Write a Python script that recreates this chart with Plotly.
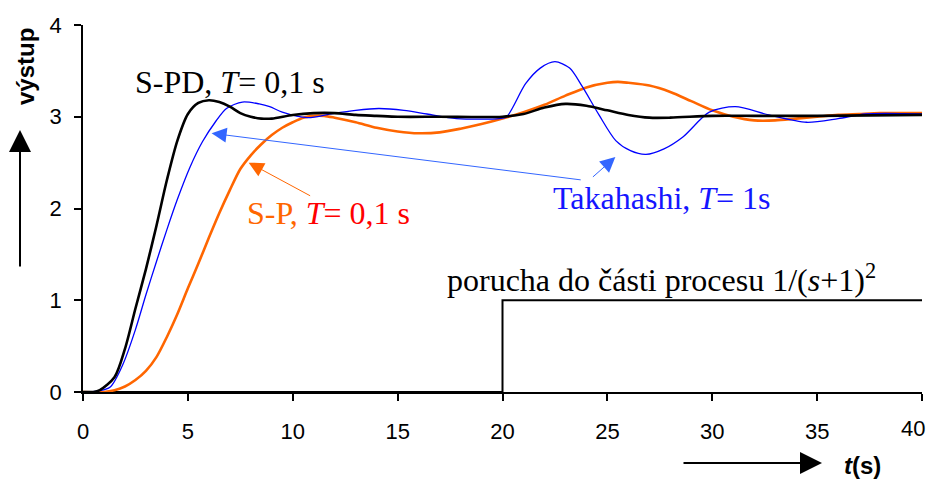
import plotly.graph_objects as go

# ---- data ----
t_spd = [0, 0.5, 0.8, 1.5, 2.0, 2.5, 3.0, 3.5, 4.0, 4.5, 5.0, 5.5, 6.0, 6.5, 7.0, 7.5, 8.0, 8.5, 9.0,
         10, 11, 12, 13, 14, 15, 17, 20, 21, 22, 23, 24, 25, 26, 27, 28, 30, 32, 35, 40]
y_spd = [0, 0, 0.02, 0.16, 0.47, 0.91, 1.34, 1.81, 2.31, 2.74, 3.03, 3.15, 3.18, 3.16, 3.11, 3.04, 3.0, 2.98, 2.98,
         3.02, 3.04, 3.04, 3.02, 3.01, 3.0, 3.0, 3.0, 3.03, 3.10, 3.14, 3.12, 3.07, 3.02, 2.99, 2.99, 3.01, 3.01, 3.01, 3.02]

t_tak = [0, 0.7, 1.3, 1.9, 2.5, 3.0, 3.5, 4.0, 4.5, 5.1, 5.7, 6.3, 6.84, 7.6, 8.4, 8.9, 9.5, 10.7, 11.9, 13.0,
         14.1, 15.3, 16.4, 17.8, 19.86, 20.2, 21.1, 21.8, 22.5, 23.2, 23.8, 24.6, 25.4, 26.1, 26.84, 27.7,
         28.6, 29.86, 31.1, 32.7, 34.5, 36.0, 37.3, 40]
y_tak = [0, 0.01, 0.055, 0.3, 0.68, 1.06, 1.42, 1.77, 2.1, 2.45, 2.73, 2.94, 3.09, 3.16, 3.14, 3.11, 3.05, 2.99, 3.035, 3.07,
         3.09, 3.07, 3.03, 2.98, 2.98, 3.0, 3.36, 3.53, 3.6, 3.53, 3.33, 3.02, 2.74, 2.63, 2.59, 2.65,
         2.78, 3.05, 3.11, 3.02, 2.94, 2.98, 3.03, 3.03]

t_sp = [0, 1.0, 1.5, 2.0, 2.5, 3.0, 3.5, 4.0, 4.5, 5.0, 5.5, 6.0, 6.5, 7.0, 7.5, 8.0, 8.5, 9.0, 9.5, 10.0,
        10.5, 11.0, 11.5, 12, 13, 14, 15, 16, 17, 18, 19, 20, 21, 22, 23, 24, 25, 25.5, 26, 27, 28, 29, 30,
        31, 32, 33, 34, 35, 36, 37, 38, 40]
y_sp = [0, 0.0, 0.02, 0.06, 0.13, 0.23, 0.38, 0.6, 0.85, 1.13, 1.4, 1.68, 1.95, 2.2, 2.43, 2.58, 2.7, 2.8, 2.88, 2.94,
        2.99, 3.01, 3.01, 2.99, 2.94, 2.88, 2.84, 2.82, 2.83, 2.87, 2.92, 2.98, 3.05, 3.13, 3.23, 3.32, 3.37, 3.38, 3.37, 3.34, 3.27, 3.17, 3.07,
        3.0, 2.96, 2.96, 2.98, 3.0, 3.02, 3.03, 3.04, 3.04]

t_dist = [0, 20, 20, 40]
y_dist = [0, 0, 1, 1]

x_ticks = [0, 5, 10, 15, 20, 25, 30, 35, 40]
x_ticklabels = ["0", "5", "10", "15", "20", "25", "30", "35", "40"]
y_ticks = [0, 1, 2, 3, 4]

SERIF = "Liberation Serif, Times New Roman, serif"
SANS = "Liberation Sans, Arial, sans-serif"

fig = go.Figure()
fig.add_trace(go.Scatter(x=t_dist, y=y_dist, mode="lines", line=dict(color="black", width=2), hoverinfo="skip"))
fig.add_trace(go.Scatter(x=t_sp, y=y_sp, mode="lines", line=dict(color="#FF6600", width=2.6, shape="spline", smoothing=0.8)))
fig.add_trace(go.Scatter(x=t_tak, y=y_tak, mode="lines", line=dict(color="#0000FF", width=1.3, shape="spline", smoothing=0.8)))
fig.add_trace(go.Scatter(x=t_spd, y=y_spd, mode="lines", line=dict(color="black", width=2.6, shape="spline", smoothing=0.8)))

ann = []
ann.append(dict(x=2.38, y=3.38, xref="x", yref="y", xanchor="left", yanchor="middle", showarrow=False,
                text="S-PD, <i>T</i>= 0,1 s", font=dict(family=SERIF, size=32, color="black")))
ann.append(dict(x=7.71, y=1.95, xref="x", yref="y", xanchor="left", yanchor="middle", showarrow=False,
                text="<span style='color:#FF6600'>S-P, </span><i>T</i>= 0,1 s", font=dict(family=SERIF, size=32, color="#FF0000")))
ann.append(dict(x=22.33, y=2.11, xref="x", yref="y", xanchor="left", yanchor="middle", showarrow=False,
                text="Takahashi, <i>T</i>= 1s", font=dict(family=SERIF, size=32, color="#1515FF")))
ann.append(dict(x=17.24, y=1.24, xref="x", yref="y", xanchor="left", yanchor="middle", showarrow=False,
                text="porucha do části procesu 1/(<i>s</i>+1)<sup>2</sup>", font=dict(family=SERIF, size=32, color="black")))
# pointer arrows
ann.append(dict(x=6.13, y=2.82, ax=23.8, ay=2.31, xref="x", yref="y", axref="x", ayref="y", text="",
                showarrow=True, arrowhead=2, arrowsize=3, arrowwidth=1, arrowcolor="#3366FF"))
ann.append(dict(x=25.38, y=2.56, ax=24.24, ay=2.33, xref="x", yref="y", axref="x", ayref="y", text="",
                showarrow=True, arrowhead=2, arrowsize=3, arrowwidth=1, arrowcolor="#3366FF"))
ann.append(dict(x=7.9, y=2.5, ax=10.9, ay=2.13, xref="x", yref="y", axref="x", ayref="y", text="",
                showarrow=True, arrowhead=2, arrowsize=3, arrowwidth=1, arrowcolor="#FF6600"))

# axis titles with arrows (page pixels -> paper coords; plot area on page: left 83, top 25, 839 x 367)
def px(xp):
    return (xp - 83) / 839.0

def py(yp):
    return (392 - yp) / 367.0

# last x tick label drawn right-anchored so it is not clipped at the window edge
ann.append(dict(x=x_ticks[-1], y=py(428), xref="x", yref="paper", xanchor="right", yanchor="middle",
                xshift=5, showarrow=False, text=x_ticklabels[-1],
                font=dict(family=SANS, size=22, color="black")))

ann.append(dict(x=px(25), y=py(67), xref="paper", yref="paper", xanchor="center", yanchor="middle",
                showarrow=False, textangle=-90,
                text="<b>výstup</b>", font=dict(family=SANS, size=24, color="black")))
ann.append(dict(x=px(20), y=py(130), ax=0, ay=138, xref="paper", yref="paper", axref="pixel", ayref="pixel",
                text="", showarrow=True, arrowhead=2, arrowsize=2.2, arrowwidth=2, arrowcolor="black"))
ann.append(dict(x=px(862), y=py(465), xref="paper", yref="paper", xanchor="center", yanchor="middle",
                showarrow=False,
                text="<b><i>t</i>(s)</b>", font=dict(family=SANS, size=24, color="black")))
ann.append(dict(x=px(822), y=py(463), ax=-140, ay=0, xref="paper", yref="paper", axref="pixel", ayref="pixel",
                text="", showarrow=True, arrowhead=2, arrowsize=2.2, arrowwidth=2, arrowcolor="black"))

# page has an 8px body margin; margins are shifted by 8px so the plot area lands where the reference has it
fig.update_layout(
    width=935, height=482,
    margin=dict(l=75, r=21, t=17, b=98),
    paper_bgcolor="white", plot_bgcolor="white",
    showlegend=False,
    annotations=ann,
    xaxis=dict(range=[0, 40], tickvals=x_ticks, ticktext=x_ticklabels[:-1] + [""], automargin=False,
               showgrid=False, zeroline=False, showline=True, linecolor="black", linewidth=2,
               ticks="outside", ticklen=7, tickwidth=1.5, tickcolor="black", ticklabelstandoff=12,
               tickfont=dict(family=SANS, size=22, color="black")),
    yaxis=dict(range=[0, 4], tickvals=y_ticks, ticktext=[str(v) for v in y_ticks], automargin=False,
               showgrid=False, zeroline=False, showline=True, linecolor="black", linewidth=1.5,
               ticks="outside", ticklen=7, tickwidth=1.5, tickcolor="black", ticklabelstandoff=8,
               tickfont=dict(family=SANS, size=22, color="black")),
)

fig.write_html("out.html")
